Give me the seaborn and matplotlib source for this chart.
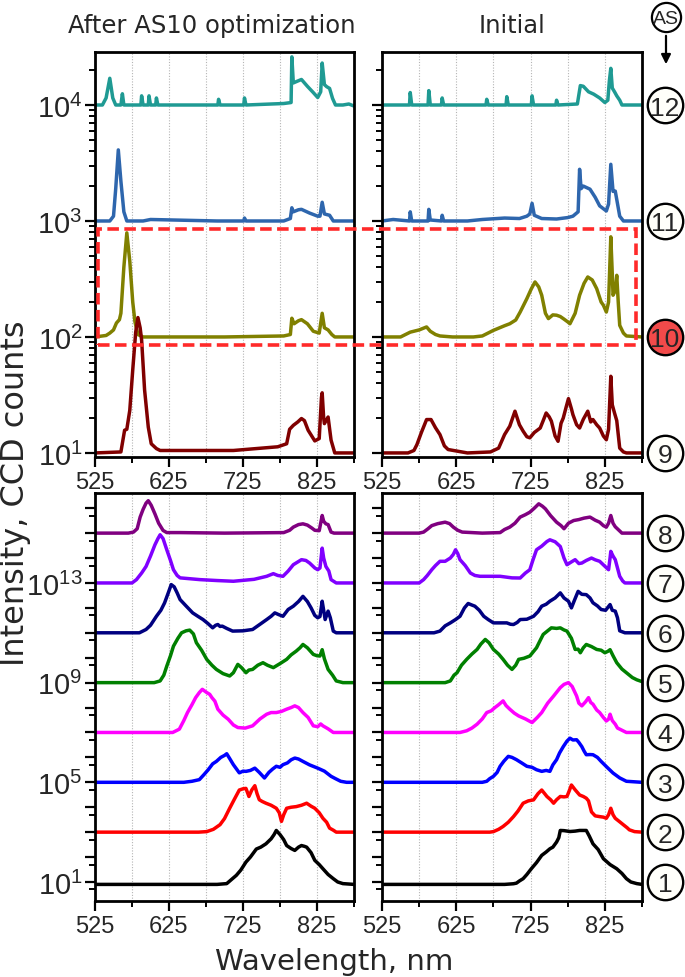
import numpy as np
import pandas as pd
import matplotlib
matplotlib.use("Agg")
import matplotlib.pyplot as plt
import seaborn as sns
from matplotlib.lines import Line2D
from matplotlib.patches import Rectangle, FancyArrowPatch
from matplotlib.ticker import FixedLocator, LogLocator, FuncFormatter, NullFormatter
from matplotlib.transforms import blended_transform_factory

# AS numbers shown in each row of panels and the factor each spectrum is shifted by
TOP_IDS = [12, 11, 10, 9]
TOP_OFFSETS = [1e4, 1e3, 1e2, 1e1]
BOTTOM_IDS = [8, 7, 6, 5, 4, 3, 2, 1]
BOTTOM_OFFSETS = [1e15, 1e13, 1e11, 1e9, 1e7, 1e5, 1e3, 1e1]

COLORS = {12: "#1f9a93", 11: "#2e66ad", 10: "#808000", 9: "#800000",
          8: "#800080", 7: "#8000ff", 6: "#000080", 5: "#008000",
          4: "#ff00ff", 3: "#0000ff", 2: "#ff0000", 1: "#000000"}

X_TICKS = [525, 625, 725, 825]
X_MINOR = [575, 675, 775, 875]

# spectra: (wavelength nm, counts relative to baseline)
AFTER_12 = [(525, 1.0), (535, 1.0), (540, 1.15), (545, 1.7), (549, 1.15), (553, 1.0), (560, 1.0), (562, 1.25),
            (564, 1.0), (587, 1.0), (588, 1.2), (590, 1.0), (597, 1.0), (598, 1.2), (600, 1.0), (607, 1.0),
            (608, 1.15), (610, 1.0), (691, 1.0), (692, 1.12), (694, 1.0), (726, 1.0), (727, 1.15), (729, 1.0),
            (780, 1.03), (790, 1.05), (791, 2.6), (793, 1.55), (798, 1.6), (804, 1.66), (812, 1.45), (820, 1.28),
            (826, 1.16), (830, 1.3), (832, 2.3), (835, 1.5), (838, 1.44), (842, 1.39), (846, 1.14), (850, 1.0),
            (860, 1.0), (868, 1.02), (875, 0.98)]
AFTER_11 = [(525, 1.0), (545, 1.0), (550, 1.1), (553, 1.9), (556.5, 4.1), (560, 2.2), (564, 1.2), (568, 1.0),
            (590, 1.0), (600, 1.03), (690, 1.0), (726, 1.0), (727, 1.06), (729, 1.0), (780, 1.0), (789, 1.05),
            (791, 1.3), (793, 1.2), (800, 1.25), (804, 1.26), (815, 1.17), (826, 1.1), (829, 1.1), (832, 1.45),
            (835, 1.15), (842, 1.12), (847, 1.0), (875, 1.0)]
AFTER_10 = [(525, 1.0), (540, 1.03), (545, 1.08), (550, 1.15), (554, 1.32), (558, 1.41), (560, 1.6), (564, 4.0),
            (568, 7.9), (572, 4.5), (576, 2.0), (579, 1.35), (583, 1.05), (590, 1.0), (700, 1.0), (780, 1.02),
            (789, 1.05), (791, 1.45), (794, 1.3), (800, 1.38), (804, 1.41), (812, 1.3), (820, 1.12), (828, 1.08),
            (832, 1.6), (835, 1.2), (840, 1.15), (845, 1.05), (849, 1.0), (875, 1.0)]
AFTER_9 = [(525, 1.0), (560, 1.02), (565, 1.57), (568, 1.6), (572, 2.33), (576, 5.2), (580, 11.0), (583, 14.7),
           (586, 12.0), (588, 9.4), (592, 3.5), (597, 1.67), (601, 1.2), (608, 1.09), (613, 1.05), (712, 1.05),
           (772, 1.13), (784, 1.2), (788, 1.6), (793, 1.73), (799, 1.85), (804, 1.98), (808, 1.9), (813, 1.57),
           (822, 1.27), (828, 1.33), (831, 3.0), (832, 3.3), (834, 2.0), (835, 1.79), (840, 2.04), (844, 1.29),
           (849, 1.0), (875, 1.0)]

INITIAL_12 = [(525, 1.0), (562, 1.0), (563, 1.28), (565, 1.0), (587, 1.0), (588, 1.33), (590, 1.0), (605, 1.0),
              (606, 1.15), (608, 1.0), (665, 1.0), (666, 1.12), (668, 1.0), (692, 1.0), (693, 1.18), (695, 1.0),
              (726, 1.0), (727, 1.2), (729, 1.0), (759, 1.0), (760, 1.1), (762, 1.0), (788, 1.02), (792, 1.47),
              (796, 1.45), (803, 1.3), (810, 1.24), (818, 1.15), (825, 1.05), (829, 1.1), (831, 1.6), (833, 2.07),
              (835, 1.4), (838, 1.3), (841, 1.2), (845, 1.1), (848, 1.0), (875, 1.0)]
INITIAL_11 = [(525, 1.0), (540, 1.03), (562, 1.0), (563, 1.2), (565, 1.0), (587, 1.0), (588, 1.26), (590, 1.02),
              (605, 1.0), (606, 1.12), (608, 1.0), (640, 1.0), (660, 1.03), (690, 1.06), (710, 1.05), (720, 1.1),
              (724, 1.15), (727, 1.42), (730, 1.12), (740, 1.05), (760, 1.04), (775, 1.07), (782, 1.1), (789, 1.2),
              (791, 2.79), (793, 1.9), (796, 2.0), (805, 1.88), (812, 1.6), (818, 1.35), (827, 1.22), (830, 1.4),
              (833, 3.08), (836, 1.8), (839, 1.81), (843, 1.3), (845, 1.1), (850, 1.0), (875, 1.0)]
INITIAL_10 = [(525, 1.0), (550, 1.0), (563, 1.1), (575, 1.15), (585, 1.22), (590, 1.12), (597, 1.05), (603, 1.02),
              (620, 1.0), (648, 1.0), (660, 1.02), (675, 1.14), (690, 1.25), (697, 1.3), (705, 1.4), (711, 1.64),
              (720, 2.14), (726, 2.6), (731, 2.98), (736, 2.7), (740, 2.29), (745, 1.6), (749, 1.44), (755, 1.55),
              (760, 1.54), (765, 1.5), (769, 1.44), (775, 1.35), (778, 1.3), (785, 1.6), (791, 2.29), (797, 2.9),
              (802, 3.29), (808, 3.1), (814, 2.61), (820, 2.0), (823, 1.88), (827, 1.64), (830, 2.0), (833, 7.3),
              (835, 3.5), (836, 2.29), (839, 2.5), (841, 3.4), (843, 2.0), (845, 1.26), (850, 1.08), (854, 1.02),
              (875, 1.0)]
INITIAL_9 = [(525, 1.0), (560, 1.0), (568, 1.05), (572, 1.18), (578, 1.5), (585, 1.94), (591, 1.94), (597, 1.65),
             (603, 1.44), (609, 1.15), (614, 1.07), (640, 1.0), (671, 1.02), (682, 1.1), (690, 1.44), (697, 1.7),
             (704, 2.29), (710, 1.75), (715, 1.54), (720, 1.38), (724, 1.35), (730, 1.5), (738, 1.64), (742, 1.9),
             (746, 2.21), (750, 2.05), (753, 1.88), (758, 1.4), (762, 1.26), (766, 1.8), (769, 2.0), (773, 2.5),
             (776, 2.94), (780, 2.4), (782, 2.14), (787, 1.75), (791, 1.64), (796, 1.95), (802, 2.29), (806, 1.85),
             (809, 1.94), (814, 1.75), (818, 1.64), (823, 1.4), (827, 1.3), (830, 1.6), (833, 4.58), (835, 2.6),
             (838, 2.21), (841, 1.9), (845, 1.1), (850, 1.02), (854, 1.0), (875, 1.0)]

AFTER_8 = [(525, 1.0), (570, 1.0), (577, 1.1), (582, 1.5), (586, 4.4), (590, 9.0), (594, 16.0), (597, 20.0),
           (601, 13.0), (606, 5.9), (611, 2.5), (617, 1.28), (622, 1.05), (640, 1.05), (700, 1.0), (780, 1.05),
           (788, 1.3), (793, 1.74), (800, 2.2), (806, 2.36), (812, 2.1), (818, 1.6), (822, 1.3), (828, 1.25),
           (830, 2.5), (832, 5.1), (834, 3.0), (837, 2.36), (840, 2.2), (844, 1.1), (848, 1.0), (875, 1.0)]
AFTER_7 = [(525, 1.0), (575, 1.0), (581, 1.36), (588, 2.5), (594, 4.6), (600, 12.0), (606, 34.0), (610, 60.0),
           (613, 86.0), (617, 60.0), (622, 21.5), (627, 8.0), (631, 3.4), (636, 2.0), (640, 1.6), (667, 1.36),
           (690, 1.25), (712, 1.17), (740, 1.4), (757, 1.85), (766, 2.36), (772, 2.0), (779, 1.85), (786, 3.0),
           (793, 5.4), (804, 8.6), (810, 8.0), (815, 6.3), (822, 4.0), (826, 3.4), (829, 4.0), (832, 25.0),
           (834, 10.0), (837, 4.6), (841, 3.0), (844, 1.36), (851, 1.0), (875, 1.0)]
AFTER_6 = [(525, 1.0), (585, 1.0), (594, 1.36), (600, 2.0), (608, 4.6), (614, 8.0), (619, 15.8), (624, 40.0),
           (628, 86.0), (632, 70.0), (636, 40.0), (640, 21.5), (648, 12.0), (657, 6.3), (664, 4.6), (671, 3.4),
           (678, 2.3), (684, 1.58), (688, 2.0), (691, 2.15), (694, 1.8), (697, 1.85), (703, 1.5), (711, 1.17),
           (725, 1.2), (738, 1.36), (748, 2.2), (757, 3.4), (763, 4.6), (768, 6.3), (773, 5.4), (779, 4.6),
           (786, 8.6), (793, 11.7), (800, 18.0), (806, 29.0), (812, 18.0), (817, 10.0), (822, 5.0), (826, 4.0),
           (829, 4.5), (832, 18.5), (834, 8.0), (836, 3.4), (840, 7.4), (843, 4.0), (847, 1.17), (851, 1.0),
           (875, 1.0)]
AFTER_5 = [(525, 1.0), (605, 1.0), (613, 1.17), (618, 2.0), (622, 4.6), (627, 12.0), (631, 29.0), (637, 60.0),
           (642, 100.0), (648, 120.0), (653, 128.0), (658, 90.0), (662, 40.0), (669, 20.0), (676, 8.6), (683, 5.0),
           (689, 3.4), (698, 2.3), (707, 1.85), (712, 2.5), (718, 5.4), (723, 4.0), (729, 2.5), (733, 3.2),
           (738, 3.4), (745, 5.0), (752, 6.3), (758, 5.0), (766, 4.0), (775, 5.8), (784, 8.6), (790, 13.0),
           (797, 18.5), (802, 25.0), (806, 34.0), (812, 25.0), (820, 13.6), (825, 12.0), (829, 11.7), (832, 21.0),
           (835, 9.0), (840, 3.4), (846, 2.0), (851, 1.17), (860, 1.0), (875, 1.0)]
AFTER_4 = [(525, 1.0), (630, 1.0), (639, 1.36), (645, 3.0), (650, 6.3), (656, 13.0), (661, 25.0), (666, 40.0),
           (670, 54.0), (676, 40.0), (680, 34.0), (683, 25.0), (687, 18.0), (691, 8.6), (698, 5.0), (705, 3.4),
           (712, 2.0), (718, 1.58), (728, 1.5), (738, 1.85), (748, 3.5), (757, 5.4), (763, 6.3), (770, 6.3),
           (777, 7.0), (784, 8.6), (790, 10.0), (795, 11.7), (800, 10.0), (806, 6.3), (813, 4.0), (820, 1.85),
           (826, 1.7), (830, 2.2), (833, 1.85), (840, 1.4), (847, 1.0), (875, 1.0)]
AFTER_3 = [(525, 1.0), (645, 1.0), (656, 1.1), (666, 1.28), (672, 2.0), (678, 3.2), (684, 5.5), (689, 6.9),
           (695, 10.0), (700, 12.0), (703, 14.0), (707, 9.0), (712, 5.1), (716, 3.5), (720, 2.4), (725, 2.8),
           (729, 2.75), (735, 3.0), (741, 3.7), (747, 2.5), (754, 1.49), (760, 2.5), (765, 3.4), (770, 4.4),
           (775, 4.0), (779, 5.1), (785, 6.0), (790, 8.0), (795, 9.4), (800, 8.6), (806, 6.9), (815, 5.0),
           (826, 3.7), (835, 2.8), (844, 1.74), (850, 1.4), (857, 1.1), (865, 1.0), (875, 1.0)]
AFTER_2 = [(525, 1.0), (665, 1.0), (676, 1.05), (685, 1.3), (694, 2.0), (700, 3.5), (707, 9.1), (713, 20.0),
           (720, 49.0), (725, 55.0), (729, 57.0), (733, 27.0), (737, 50.0), (741, 73.0), (744, 35.0), (747, 20.0),
           (751, 17.0), (756, 14.5), (763, 12.0), (770, 9.1), (774, 6.0), (777, 2.7), (780, 5.0), (784, 9.1),
           (790, 10.0), (797, 10.6), (804, 12.0), (811, 14.5), (817, 11.0), (822, 9.1), (828, 6.0), (833, 3.6),
           (838, 2.5), (842, 1.45), (847, 1.2), (851, 1.0), (875, 1.0)]
AFTER_1 = [(525, 0.8), (690, 0.8), (703, 0.86), (710, 1.3), (716, 1.85), (722, 3.0), (729, 6.3), (735, 10.0),
           (743, 21.0), (749, 25.0), (756, 34.0), (763, 54.0), (767, 80.0), (770, 117.0), (775, 80.0), (780, 50.0),
           (784, 29.0), (790, 22.0), (795, 18.5), (800, 25.0), (804, 29.0), (808, 27.0), (811, 25.0), (817, 15.0),
           (822, 7.4), (828, 5.0), (833, 3.4), (840, 2.0), (847, 1.36), (853, 1.0), (860, 0.86), (875, 0.8)]

INITIAL_8 = [(525, 1.0), (575, 1.0), (581, 1.1), (587, 1.5), (592, 2.0), (600, 2.4), (610, 2.75), (616, 2.4),
             (621, 1.74), (627, 1.3), (633, 1.1), (660, 1.0), (684, 1.05), (690, 1.4), (697, 1.74), (704, 2.5),
             (711, 4.4), (718, 5.5), (724, 6.9), (730, 10.0), (736, 15.0), (741, 12.0), (745, 9.4), (752, 5.0),
             (760, 2.75), (766, 2.0), (770, 1.5), (776, 2.5), (783, 3.2), (790, 3.5), (797, 4.0), (805, 4.4),
             (812, 3.3), (818, 2.75), (823, 2.0), (827, 1.74), (830, 2.5), (833, 5.1), (836, 2.5), (839, 1.8),
             (844, 1.3), (848, 1.0), (875, 1.0)]
INITIAL_7 = [(525, 1.0), (575, 1.0), (581, 1.36), (586, 2.0), (592, 3.4), (597, 5.0), (603, 7.4), (610, 7.4),
             (617, 10.0), (621, 14.0), (624, 21.5), (627, 15.0), (630, 8.6), (637, 5.0), (644, 2.5), (650, 2.0),
             (657, 1.85), (670, 1.85), (684, 1.85), (700, 1.6), (711, 1.58), (718, 2.5), (724, 3.4), (728, 8.0),
             (733, 21.5), (740, 30.0), (747, 46.0), (751, 54.0), (758, 45.0), (765, 29.0), (770, 10.0), (774, 5.4),
             (780, 7.0), (785, 8.6), (790, 6.0), (794, 6.3), (800, 8.0), (807, 10.0), (812, 8.5), (818, 7.4),
             (824, 5.0), (830, 3.4), (832, 10.0), (833, 18.5), (836, 12.0), (839, 8.6), (842, 4.0), (845, 1.85),
             (849, 1.2), (852, 1.0), (875, 1.0)]
INITIAL_6 = [(525, 1.0), (595, 1.0), (603, 1.17), (610, 1.9), (617, 2.5), (624, 3.4), (630, 4.6), (636, 10.0),
             (641, 15.0), (646, 13.0), (650, 11.7), (656, 8.0), (662, 4.6), (668, 3.4), (675, 2.5), (684, 2.5),
             (693, 2.5), (698, 2.2), (702, 2.15), (707, 2.6), (711, 3.4), (720, 3.5), (729, 4.6), (735, 7.0),
             (740, 11.7), (746, 14.0), (751, 18.5), (758, 25.0), (765, 40.0), (770, 25.0), (776, 18.5), (780, 10.0),
             (784, 20.0), (789, 46.0), (794, 35.0), (800, 34.0), (805, 25.0), (809, 16.0), (815, 12.0), (820, 8.6),
             (826, 8.0), (832, 13.6), (835, 8.0), (839, 7.4), (842, 4.0), (845, 1.2), (852, 1.0), (875, 1.0)]
INITIAL_5 = [(525, 1.0), (610, 1.0), (617, 1.17), (622, 2.0), (626, 2.5), (632, 5.0), (639, 8.6), (646, 14.0),
             (653, 21.5), (658, 35.0), (664, 54.0), (669, 40.0), (675, 21.5), (682, 14.0), (688, 8.6), (694, 5.0),
             (700, 3.4), (705, 5.0), (709, 8.6), (716, 9.5), (724, 11.7), (733, 25.0), (738, 50.0), (742, 86.0),
             (748, 120.0), (753, 158.0), (760, 150.0), (765, 158.0), (770, 130.0), (774, 117.0), (780, 60.0),
             (785, 21.5), (789, 22.0), (792, 15.8), (796, 25.0), (800, 34.0), (807, 28.0), (814, 21.5), (820, 20.0),
             (825, 15.8), (829, 18.0), (832, 21.0), (836, 12.0), (841, 6.3), (848, 3.5), (854, 2.5), (862, 1.6),
             (868, 1.3), (875, 1.1)]
INITIAL_4 = [(525, 1.0), (630, 1.0), (639, 1.17), (646, 1.5), (653, 2.15), (660, 3.5), (666, 6.3), (672, 7.4),
             (677, 10.0), (682, 13.0), (688, 18.5), (692, 12.0), (697, 8.6), (703, 6.0), (709, 4.6), (718, 3.5),
             (727, 2.5), (734, 4.0), (740, 6.3), (748, 15.0), (756, 29.0), (765, 63.0), (770, 85.0), (776, 100.0),
             (781, 70.0), (787, 29.0), (790, 15.0), (794, 11.7), (799, 17.0), (803, 25.0), (806, 16.0), (809, 13.6),
             (814, 8.0), (818, 6.3), (823, 4.0), (827, 2.9), (830, 3.4), (832, 5.4), (835, 3.0), (839, 2.15),
             (842, 1.5), (845, 1.36), (854, 1.0), (875, 1.0)]
INITIAL_3 = [(525, 1.0), (660, 1.0), (666, 1.1), (670, 1.4), (675, 1.74), (680, 2.5), (684, 4.4), (689, 7.0),
             (695, 11.0), (700, 10.0), (706, 8.1), (713, 6.0), (720, 4.4), (727, 4.0), (733, 3.2), (740, 2.75),
             (746, 3.0), (751, 2.75), (755, 5.0), (760, 8.1), (764, 15.0), (769, 27.0), (774, 45.0), (778, 59.0),
             (782, 50.0), (787, 51.0), (790, 40.0), (794, 27.0), (797, 18.0), (800, 12.8), (805, 13.0), (809, 12.8),
             (815, 10.0), (820, 6.9), (828, 4.0), (836, 2.36), (845, 1.5), (854, 1.1), (875, 1.0)]
INITIAL_2 = [(525, 1.0), (670, 1.0), (675, 1.05), (682, 1.3), (688, 1.69), (695, 2.5), (702, 4.2), (708, 7.0),
             (715, 14.5), (722, 18.0), (729, 19.7), (735, 35.0), (740, 49.0), (744, 35.0), (747, 27.0), (752, 20.0),
             (756, 14.5), (760, 20.0), (765, 27.0), (770, 26.0), (774, 27.0), (777, 45.0), (780, 78.0), (785, 50.0),
             (791, 31.0), (796, 27.0), (800, 23.0), (803, 18.0), (807, 6.5), (812, 4.5), (818, 4.2), (823, 4.0),
             (827, 3.6), (830, 5.0), (833, 9.1), (836, 5.0), (839, 3.6), (845, 2.6), (850, 1.97), (855, 1.5),
             (858, 1.24), (865, 1.05), (875, 1.0)]
INITIAL_1 = [(525, 0.8), (690, 0.8), (702, 0.85), (706, 0.9), (710, 1.1), (715, 1.36), (720, 2.0), (726, 3.4),
             (733, 6.0), (740, 11.7), (746, 16.0), (751, 21.5), (755, 25.0), (760, 40.0), (763, 60.0), (765, 117.0),
             (770, 115.0), (778, 106.0), (785, 110.0), (791, 117.0), (796, 117.0), (800, 117.0), (804, 70.0),
             (809, 34.0), (816, 20.0), (823, 8.6), (832, 5.0), (841, 3.4), (848, 2.2), (854, 1.36), (860, 1.0),
             (868, 0.86), (875, 0.8)]

SPECTRA = {
    ("after", 12): AFTER_12, ("after", 11): AFTER_11, ("after", 10): AFTER_10, ("after", 9): AFTER_9,
    ("initial", 12): INITIAL_12, ("initial", 11): INITIAL_11, ("initial", 10): INITIAL_10, ("initial", 9): INITIAL_9,
    ("after", 8): AFTER_8, ("after", 7): AFTER_7, ("after", 6): AFTER_6, ("after", 5): AFTER_5,
    ("after", 4): AFTER_4, ("after", 3): AFTER_3, ("after", 2): AFTER_2, ("after", 1): AFTER_1,
    ("initial", 8): INITIAL_8, ("initial", 7): INITIAL_7, ("initial", 6): INITIAL_6, ("initial", 5): INITIAL_5,
    ("initial", 4): INITIAL_4, ("initial", 3): INITIAL_3, ("initial", 2): INITIAL_2, ("initial", 1): INITIAL_1,
}
OFFSETS = dict(zip(TOP_IDS + BOTTOM_IDS, TOP_OFFSETS + BOTTOM_OFFSETS))

# long table: one row per point, shifted by the AS offset
rows = []
for (panel, sid), pts in SPECTRA.items():
    for wl, rel in pts:
        rows.append({"panel": panel, "AS": f"AS{sid}", "wl": wl, "counts": rel * OFFSETS[sid]})
df = pd.DataFrame(rows)
palette = {f"AS{k}": v for k, v in COLORS.items()}

sns.set_theme(style="ticks")
plt.rcParams.update({
    "font.family": ["DejaVu Sans"],
    "mathtext.fontset": "custom",
    "mathtext.rm": "Liberation Sans",
    "mathtext.it": "Liberation Sans:italic",
    "mathtext.bf": "Liberation Sans:bold",
    "axes.linewidth": 2.0,
    "axes.edgecolor": "black",
    "figure.facecolor": "white",
    "axes.facecolor": "white",
})

W, H = 685, 978
fig = plt.figure(figsize=(W / 100, H / 100), dpi=100)


def box(x0, y0, x1, y1):
    # pixel box (top-left origin) -> figure fraction rect
    return [x0 / W, 1 - y1 / H, (x1 - x0) / W, (y1 - y0) / H]


ax_tl = fig.add_axes(box(95, 53, 354, 458))
ax_tr = fig.add_axes(box(382, 53, 642, 458))
ax_bl = fig.add_axes(box(95, 494, 354, 902))
ax_br = fig.add_axes(box(382, 494, 642, 902))

panels = [
    (ax_tl, "after", TOP_IDS, True),
    (ax_tr, "initial", TOP_IDS, False),
    (ax_bl, "after", BOTTOM_IDS, True),
    (ax_br, "initial", BOTTOM_IDS, False),
]


def exp_label(v, pos, show=None):
    k = int(round(np.log10(v)))
    if show is not None and k not in show:
        return ""
    return rf"$10^{{{k}}}$"


for ax, panel, ids, left in panels:
    sub = df[(df["panel"] == panel) & df["AS"].isin([f"AS{i}" for i in ids])]
    sns.lineplot(data=sub, x="wl", y="counts", hue="AS", palette=palette, estimator=None,
                 sort=False, lw=2.5, legend=False, ax=ax)
    ax.set_yscale("log")
    ax.set_xlim(525, 875)
    ax.set_xlabel("")
    ax.set_ylabel("")
    ax.set_xticks(X_TICKS)
    ax.set_xticks(X_MINOR, minor=True)
    ax.set_xticklabels([str(t) for t in X_TICKS])
    if ids == TOP_IDS:
        ax.set_ylim(10 ** 0.965, 10 ** 4.457)
        ax.yaxis.set_major_locator(FixedLocator(TOP_OFFSETS[::-1]))
        ax.yaxis.set_minor_locator(LogLocator(base=10, subs=np.arange(2, 10), numticks=20))
        ax.yaxis.set_major_formatter(FuncFormatter(exp_label))
    else:
        ax.set_ylim(10 ** 0.237, 10 ** 16.61)
        decades = [10.0 ** k for k in range(0, 17)]
        ax.yaxis.set_major_locator(FixedLocator(decades))
        ax.yaxis.set_minor_locator(FixedLocator([5 * d for d in decades]))
        ax.yaxis.set_major_formatter(FuncFormatter(lambda v, p: exp_label(v, p, show=(1, 5, 9, 13))))
    ax.yaxis.set_minor_formatter(NullFormatter())
    ax.grid(True, axis="x", which="both", ls=(0, (1, 1.5)), color="#b5b5b5", lw=0.8)
    ax.grid(False, axis="y", which="both")
    ax.tick_params(axis="both", which="major", direction="out", length=7, width=1.6, color="black")
    ax.tick_params(axis="both", which="minor", direction="out", length=4.5, width=1.4, color="black")
    ax.tick_params(axis="x", labelsize=17, pad=3)
    ax.tick_params(axis="y", labelsize=21, pad=2, labelleft=left)
    ax.tick_params(top=False, right=False, which="both")
    for lab in ax.get_xticklabels():
        lab.set_family("Liberation Sans")
    for s in ax.spines.values():
        s.set_visible(True)
        s.set_linewidth(2.0)
        s.set_color("black")

# numbered AS circles at each baseline, right of the "Initial" panels
for ax, ids in [(ax_tr, TOP_IDS), (ax_br, BOTTOM_IDS)]:
    tr = blended_transform_factory(ax.transAxes, ax.transData)
    for sid in ids:
        face = "#f24a4a" if sid == 10 else "#fffffa"
        ax.plot([1.088], [OFFSETS[sid]], marker="o", ms=25.5, mfc=face, mec="black", mew=1.7,
                transform=tr, clip_on=False, zorder=5)
        ax.text(1.088, OFFSETS[sid], str(sid), transform=tr, ha="center", va="center_baseline",
                fontsize=19, family="Liberation Sans", zorder=6)

# "AS" marker with downward arrow
fig.add_artist(Line2D([666 / W], [1 - 18 / H], marker="o", ms=21, mfc="white", mec="black", mew=1.6,
                      transform=fig.transFigure))
fig.text(666 / W, 1 - 18 / H, "AS", ha="center", va="center_baseline", fontsize=14, family="Liberation Sans")
fig.add_artist(FancyArrowPatch((666 / W, 1 - 34 / H), (666 / W, 1 - 68 / H), transform=fig.transFigure,
                               arrowstyle="-|>", mutation_scale=14, color="black", lw=1.6))

# red dashed frame around AS10 row
fig.add_artist(Rectangle((97.5 / W, 1 - 346 / H), (635.5 - 97.5) / W, (346 - 230) / H,
                         transform=fig.transFigure, fill=False, ec="#ff2a2a", lw=2.6,
                         ls=(0, (3.2, 1.5)), zorder=10))

fig.text(212 / W, 1 - 33 / H, "After AS10 optimization", ha="center", va="baseline", fontsize=17.5)
fig.text(512 / W, 1 - 33 / H, "Initial", ha="center", va="baseline", fontsize=17.5)
fig.text(16 / W, 1 - 493 / H, "Intensity, CCD counts", rotation=90, ha="center", va="center", fontsize=23)
fig.text(334 / W, 1 - 970 / H, "Wavelength, nm", ha="center", va="baseline", fontsize=21)

fig.savefig("out.png", dpi=100)
